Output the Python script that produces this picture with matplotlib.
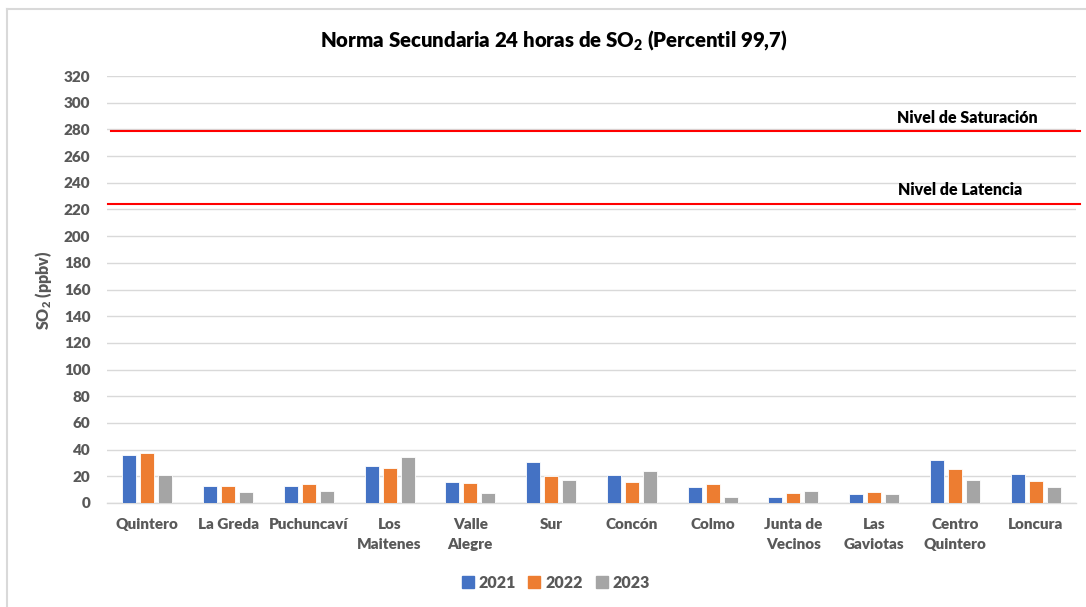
import numpy as np
import matplotlib
matplotlib.use("Agg")
import matplotlib.pyplot as plt
import matplotlib.transforms as mtransforms
from matplotlib.lines import Line2D

# ============================================================
# Data
# ============================================================

stations = ["Quintero", "La Greda", "Puchuncaví", "Los\nMaitenes", "Valle\nAlegre",
            "Sur", "Concón", "Colmo", "Junta de\nVecinos", "Las\nGaviotas",
            "Centro\nQuintero", "Loncura"]
years = ["2021", "2022", "2023"]
so2_2021 = [35.9, 12.4, 12.7, 27.8, 15.7, 30.9, 21.0, 11.9, 4.3, 6.8, 32.4, 21.5]
so2_2022 = [37.7, 12.9, 14.2, 26.6, 14.9, 20.5, 15.9, 14.4, 7.3, 8.6, 25.3, 16.5]
so2_2023 = [21.0, 8.1, 8.9, 34.4, 7.8, 17.0, 24.1, 4.3, 8.9, 6.8, 17.2, 11.9]

nivel_saturacion = 279
nivel_latencia = 224

colors = ["#4472C4", "#ED7D31", "#A5A5A5"]
text_gray = "#595959"
W = 800  # font weight

plt.rcParams["font.family"] = ["Lato", "DejaVu Sans"]
plt.rcParams["font.weight"] = W
plt.rcParams["mathtext.fontset"] = "custom"
plt.rcParams["mathtext.rm"] = "Lato:weight=heavy"
plt.rcParams["mathtext.it"] = "Lato:weight=heavy"
plt.rcParams["mathtext.bf"] = "Lato:weight=heavy"

# ============================================================
# Figure
# ============================================================

fig = plt.figure(figsize=(10.86, 6.07), dpi=100)
ax = fig.add_axes([107 / 1086, 104 / 607, 969 / 1086, 427 / 607])

x = np.arange(len(stations))
width = 0.172
step = 0.223
for i, (vals, c) in enumerate(zip([so2_2021, so2_2022, so2_2023], colors)):
    ax.bar(x + (i - 1) * step, vals, width, color=c, edgecolor="white",
           linewidth=0.6, label=years[i], zorder=3)

ax.set_xlim(-0.5, len(stations) - 0.5)
ax.set_ylim(0, 320)
ax.set_yticks(np.arange(0, 321, 20))
ax.yaxis.grid(True, color="#D9D9D9", linewidth=1, zorder=0)
ax.set_axisbelow(True)
for s in ["top", "right", "left"]:
    ax.spines[s].set_visible(False)
ax.spines["bottom"].set_color("#D9D9D9")
ax.spines["bottom"].set_linewidth(1)

ax.set_xticks(x)
ax.set_xticklabels(stations, linespacing=1.6)
ax.tick_params(axis="both", length=0, labelsize=11, labelcolor=text_gray)
ax.tick_params(axis="y", pad=12)
ax.tick_params(axis="x", pad=11)
for t in ax.get_xticklabels() + ax.get_yticklabels():
    t.set_fontweight(W)

# Reference levels
trans = mtransforms.blended_transform_factory(ax.transAxes, ax.transData)
ax.plot([0.004, 1.004], [nivel_saturacion, nivel_saturacion], color="red",
        linewidth=1.5, transform=trans, clip_on=False, zorder=4)
ax.plot([0.001, 1.004], [nivel_latencia, nivel_latencia], color="red",
        linewidth=1.5, transform=trans, clip_on=False, zorder=4)
ax.text(0.888, nivel_saturacion + 9.5, "Nivel de Saturación", transform=trans,
        ha="center", va="center", fontsize=11.5, fontweight=W, color="black")
ax.text(0.880, nivel_latencia + 10.5, "Nivel de Latencia", transform=trans,
        ha="center", va="center", fontsize=11.5, fontweight=W, color="black")

fig.text(554 / 1086, 1 - 40 / 607, r"Norma Secundaria 24 horas de SO$_2$ (Percentil 99,7)",
         ha="center", va="center", fontsize=14.7, fontweight=W, color="black")
fig.text(43 / 1086, 1 - 290 / 607, r"SO$_2$ (ppbv)", rotation=90,
         ha="center", va="center", fontsize=11.5, fontweight=W, color=text_gray)

handles = [Line2D([], [], marker="s", linestyle="none", markersize=8,
                  markerfacecolor=c, markeredgecolor=c) for c in colors]
fig.legend(handles, years, loc="center", bbox_to_anchor=(556 / 1086, 1 - 583 / 607),
           ncol=3, frameon=False, handlelength=0.7, handletextpad=0.35,
           columnspacing=0.8, labelcolor=text_gray, prop={"weight": W, "size": 11.5})

# chart border
fig.add_artist(Line2D([7 / 1086, 7 / 1086], [0, 1 - 9 / 607], color="#D9D9D9",
                      linewidth=1.5, transform=fig.transFigure))
fig.add_artist(Line2D([7 / 1086, 1], [1 - 9 / 607, 1 - 9 / 607], color="#D9D9D9",
                      linewidth=1.5, transform=fig.transFigure))

plt.savefig("out.png", dpi=100)
plt.close()
